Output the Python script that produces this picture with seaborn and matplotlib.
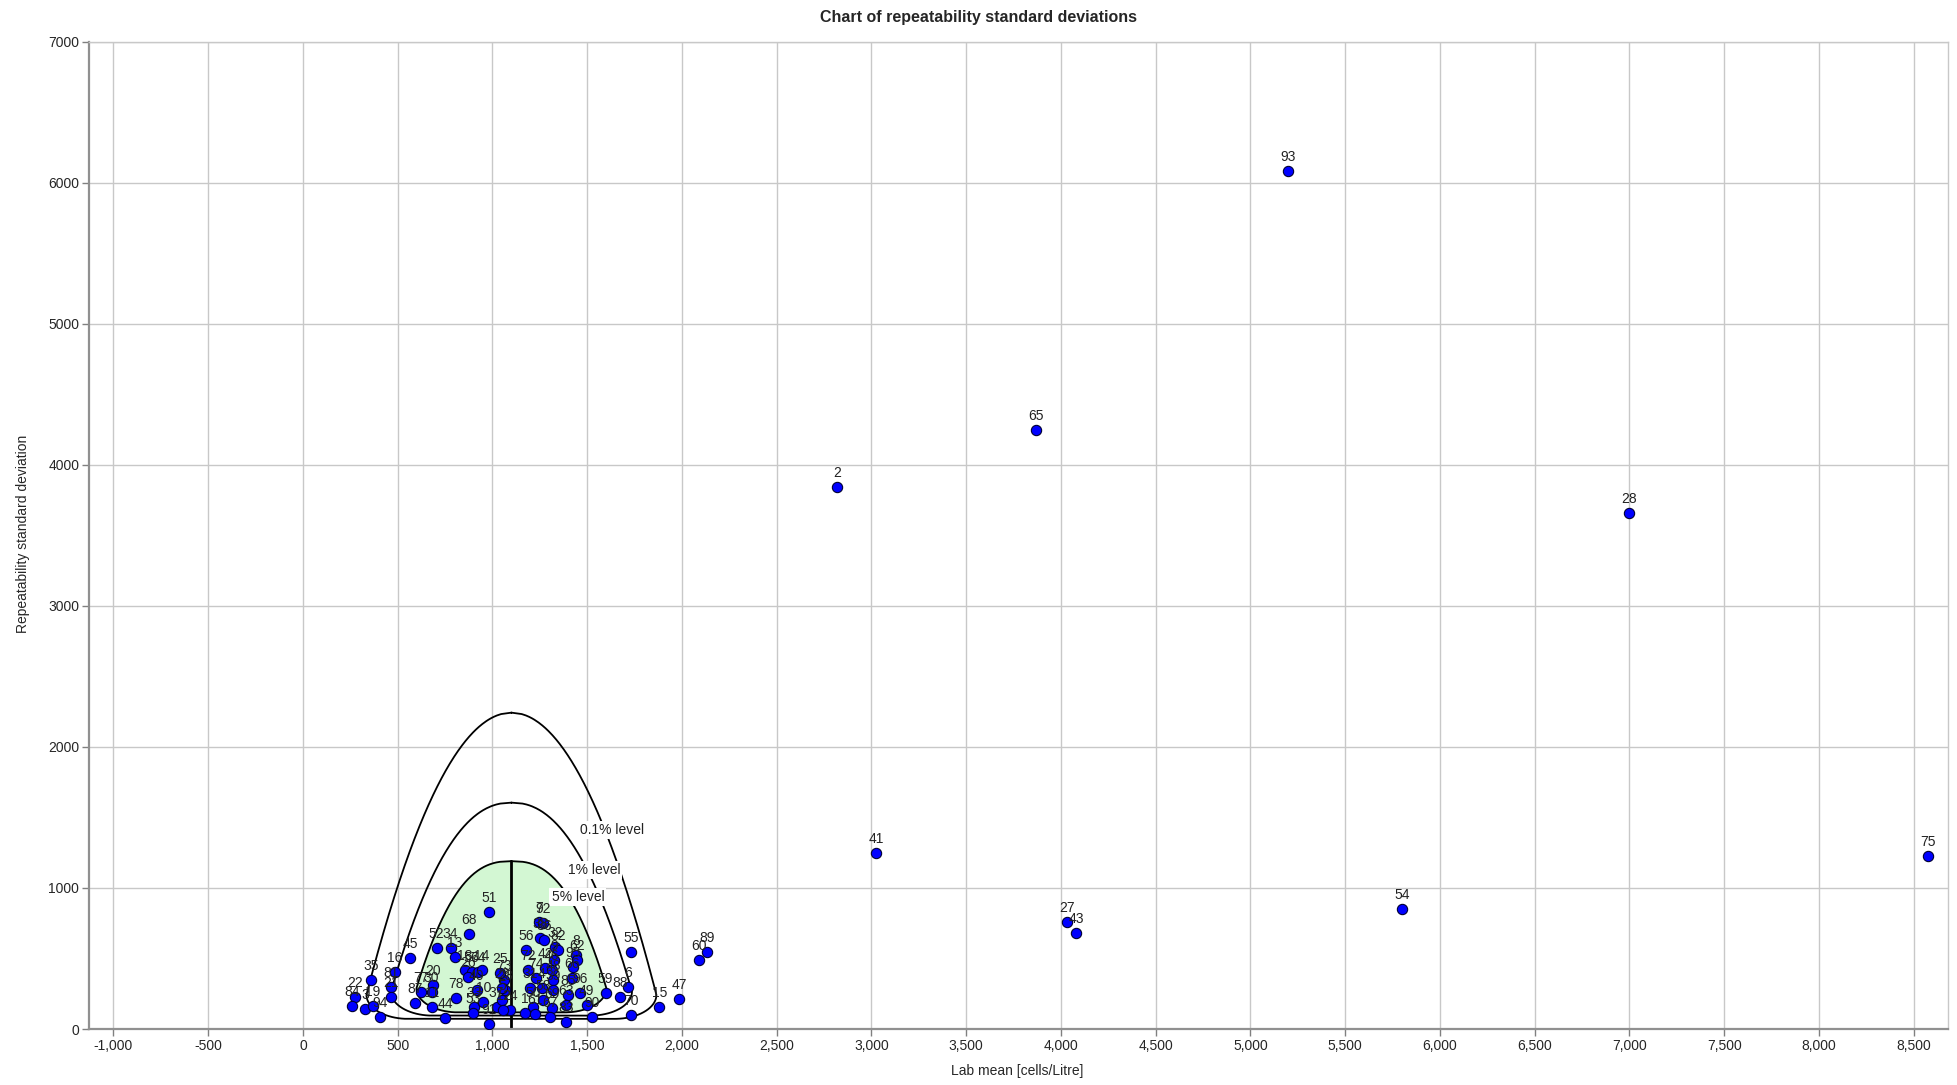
import numpy as np
import pandas as pd
import seaborn as sns
import matplotlib.pyplot as plt
from matplotlib.ticker import FuncFormatter

# --- data: lab number, lab mean, repeatability s ---
LAB = ["93", "65", "2", "28", "41", "75", "54", "27", "43",
       "22", "84", "3", "19", "94", "35", "16", "81", "21", "45",
       "87", "77", "20", "30", "11", "44", "52", "34", "13", "68",
       "51", "78", "18", "57", "64", "14", "26", "40", "33", "53",
       "10", "91", "37", "5", "73", "23", "24", "25", "29", "12",
       "56", "7", "92", "38", "36", "32", "82", "42", "8", "62",
       "95", "46", "48", "66", "49", "90", "96", "83", "59", "88",
       "6", "55", "70", "15", "47", "60", "89", "4", "58", "69",
       "50", "1", "61", "67", "31", "72", "74", "85", "9", "39", "63"]
MEAN = [5200, 3870, 2820, 7000, 3025, 8575, 5800, 4030, 4080,
        274, 257, 327, 368, 406, 359, 485, 464, 464, 565,
        591, 621, 688, 679, 679, 749, 705, 779, 802, 876,
        983, 807, 855, 890, 925, 943, 873, 916, 902, 899,
        951, 983, 1022, 1052, 1062, 1066, 1092, 1040, 1048, 1057,
        1177, 1247, 1268, 1251, 1274, 1330, 1347, 1277, 1441, 1444,
        1426, 1312, 1321, 1418, 1497, 1523, 1462, 1388, 1597, 1673,
        1717, 1730, 1730, 1880, 1985, 2090, 2130, 1260, 1268, 1312,
        1215, 1172, 1224, 1303, 1198, 1190, 1230, 1400, 1325, 1321, 1388]
SD = [6080, 4250, 3840, 3660, 1250, 1230, 850, 760, 680,
      225, 163, 140, 163, 87, 348, 406, 296, 229, 501,
      182, 265, 312, 265, 154, 76, 572, 572, 508, 672,
      828, 218, 418, 406, 406, 418, 371, 277, 158, 111,
      194, 35, 158, 206, 348, 277, 135, 400, 289, 135,
      560, 761, 754, 643, 631, 584, 560, 430, 525, 489,
      442, 418, 348, 359, 170, 87, 253, 52, 253, 225,
      300, 545, 100, 155, 210, 490, 545, 289, 206, 147,
      158, 111, 104, 87, 289, 420, 360, 241, 489, 277, 170]

# acceptance contours: level, top s, half width, shape exponent, bottom s
LEVELS = ["0.1% level", "1% level", "5% level"]
TOP = [2243, 1605, 1190]
WIDTH = [810, 690, 560]
POWER = [0.5, 0.45, 0.4]
BOTTOM = [72, 95, 118]
LEVEL_X = [1630, 1535, 1451]
LEVEL_Y = [1411, 1128, 936]
CENTER = 1100


def contour(top, width, power, bottom, mu=CENTER, rs=170, rx=220):
    s_c = bottom + rs
    s_main = np.linspace(top, s_c, 200)
    hw_main = width * (1 - s_main / top) ** power
    hw_c = width * (1 - s_c / top) ** power
    th = np.linspace(0, np.pi / 2, 40)
    hw = np.concatenate([hw_main, hw_c - rx + rx * np.cos(th), [0]])
    s = np.concatenate([s_main, s_c - rs * np.sin(th), [bottom]])
    x = np.concatenate([mu + hw, (mu - hw)[::-1]])
    y = np.concatenate([s, s[::-1]])
    return x, y


df = pd.DataFrame({"lab": LAB, "mean": MEAN, "sd": SD})

sns.set_theme(style="whitegrid")
plt.rcParams["font.family"] = ["Liberation Sans", "DejaVu Sans"]

fig = plt.figure(figsize=(19.57, 10.85), dpi=100)
ax = fig.add_axes([0.0455, 0.0516, 0.9499, 0.91])
ax.set_facecolor("white")

# contours
for i, (t, w, p, b) in enumerate(zip(TOP, WIDTH, POWER, BOTTOM)):
    cx, cy = contour(t, w, p, b)
    if i == 2:
        ax.fill(cx, cy, color="#d3f7d3", zorder=1)
    ax.plot(cx, cy, color="black", lw=1.3, zorder=2)
ax.plot([CENTER, CENTER], [0, TOP[2]], color="black", lw=2, zorder=2)

for lab, lx, ly in zip(LEVELS, LEVEL_X, LEVEL_Y):
    ax.text(lx, ly, lab, ha="center", va="center", fontsize=10, color="#222222",
            bbox=dict(facecolor="white", edgecolor="none", pad=1.5), zorder=3)

sns.scatterplot(data=df, x="mean", y="sd", ax=ax, color="#0000ff",
                edgecolor="#000033", linewidth=0.8, s=55, zorder=5, legend=False)

for _, r in df.iterrows():
    ax.annotate(r["lab"], (r["mean"], r["sd"]), xytext=(0, 5),
                textcoords="offset points", ha="center", va="bottom",
                fontsize=10, color="#222222", zorder=6)

ax.set_xlim(-1129, 8681)
ax.set_ylim(0, 7000)
ax.set_xticks(range(-1000, 8501, 500))
ax.set_yticks(range(0, 7001, 1000))
ax.xaxis.set_major_formatter(FuncFormatter(lambda v, _: f"{int(v):,}"))
ax.yaxis.set_major_formatter(FuncFormatter(lambda v, _: f"{int(v)}"))
ax.grid(True, color="#c8c8c8", lw=1)
ax.tick_params(axis="both", labelsize=10, length=5, width=1, color="#808080",
               pad=2, direction="out", left=True, bottom=True)
for side in ["left", "bottom"]:
    ax.spines[side].set_color("#909090")
    ax.spines[side].set_linewidth(1.6)
for side in ["top", "right"]:
    ax.spines[side].set_color("#c8c8c8")
    ax.spines[side].set_linewidth(1)
ax.set_xlabel("")
ax.set_ylabel("")

fig.text(0.5, 0.984, "Chart of repeatability standard deviations", ha="center",
         va="center", fontsize=11.5, fontweight="bold")
fig.text(0.5197, 0.0129, "Lab mean [cells/Litre]", ha="center", va="center", fontsize=10)
fig.text(0.0115, 0.508, "Repeatability standard deviation", ha="center", va="center",
         rotation=90, fontsize=10)

fig.savefig("out.png", dpi=100)
